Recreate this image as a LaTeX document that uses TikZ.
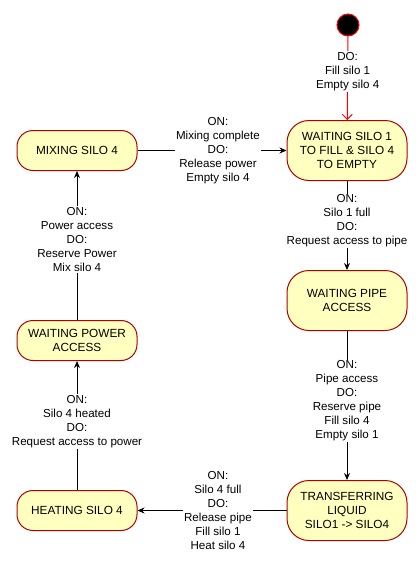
\documentclass[tikz,border=0pt]{standalone}
\usepackage{fontspec}
\setmainfont{Liberation Sans}
\usetikzlibrary{arrows.meta}
\definecolor{statefill}{HTML}{FFFFC0}
\definecolor{stateline}{HTML}{B20000}
\definecolor{startline}{HTML}{FF0000}
\tikzset{
  state/.style={draw=stateline, fill=statefill, line width=1pt, rounded corners=16pt,
    minimum width=120pt, minimum height=40pt, inner sep=0pt, align=center,
    font=\fontsize{11.8}{14}\selectfont},
  tallstate/.style={state, minimum height=60pt, rounded corners=22pt},
  trans/.style={draw=black, line width=1pt, -{Stealth[length=7pt,width=6pt]}},
  cond/.style={fill=white, align=center, inner sep=1pt, font=\fontsize{11.6}{14}\selectfont}
}
\begin{document}
\begin{tikzpicture}[x=1pt,y=-1pt]
\useasboundingbox (0,0) rectangle (420,563);

\node[circle, fill=black, draw=startline, line width=1pt, minimum size=22pt, inner sep=0pt] (start) at (348,25) {};

\node[tallstate] (waitfill) at (347,150.5) {WAITING SILO 1\\TO FILL \& SILO 4\\TO EMPTY};
\node[state] (mixing) at (77,150.5) {MIXING SILO 4};
\node[tallstate] (waitpipe) at (347,300.5) {WAITING PIPE\\ACCESS};
\node[state] (waitpower) at (77,340.5) {WAITING POWER\\ACCESS};
\node[tallstate] (transfer) at (347,510.5) {TRANSFERRING\\LIQUID\\SILO1 -> SILO4};
\node[state] (heating) at (77,510.5) {HEATING SILO 4};

\draw[line width=1pt, draw=startline, -{Straight Barb[length=5pt,width=10pt,line width=1pt]}] (start) -- (waitfill)
  node[cond, pos=0.42] (dofill) {DO:\\Fill silo 1\\Empty silo 4};

\draw[trans] (mixing) -- (waitfill)
  node[cond, pos=0.54] (onmixed) {ON:\\Mixing complete\\DO:\\Release power\\Empty silo 4};

\draw[trans] (waitfill) -- (waitpipe)
  node[cond, pos=0.45] (onfull1) {ON:\\Silo 1 full\\DO:\\Request access to pipe};

\draw[trans] (waitpipe) -- (transfer)
  node[cond, pos=0.47] (onpipe) {ON:\\Pipe access\\DO:\\Reserve pipe\\Fill silo 4\\Empty silo 1};

\draw[trans] (transfer) -- (heating)
  node[cond, pos=0.46] (onfull4) {ON:\\Silo 4 full\\DO:\\Release pipe\\Fill silo 1\\Heat silo 4};

\draw[trans] (heating) -- (waitpower)
  node[cond, pos=0.53] (onheated) {ON:\\Silo 4 heated\\DO:\\Request access to power};

\draw[trans] (waitpower) -- (mixing)
  node[cond, pos=0.54] (onpower) {ON:\\Power access\\DO:\\Reserve Power\\Mix silo 4};

\end{tikzpicture}
\end{document}
